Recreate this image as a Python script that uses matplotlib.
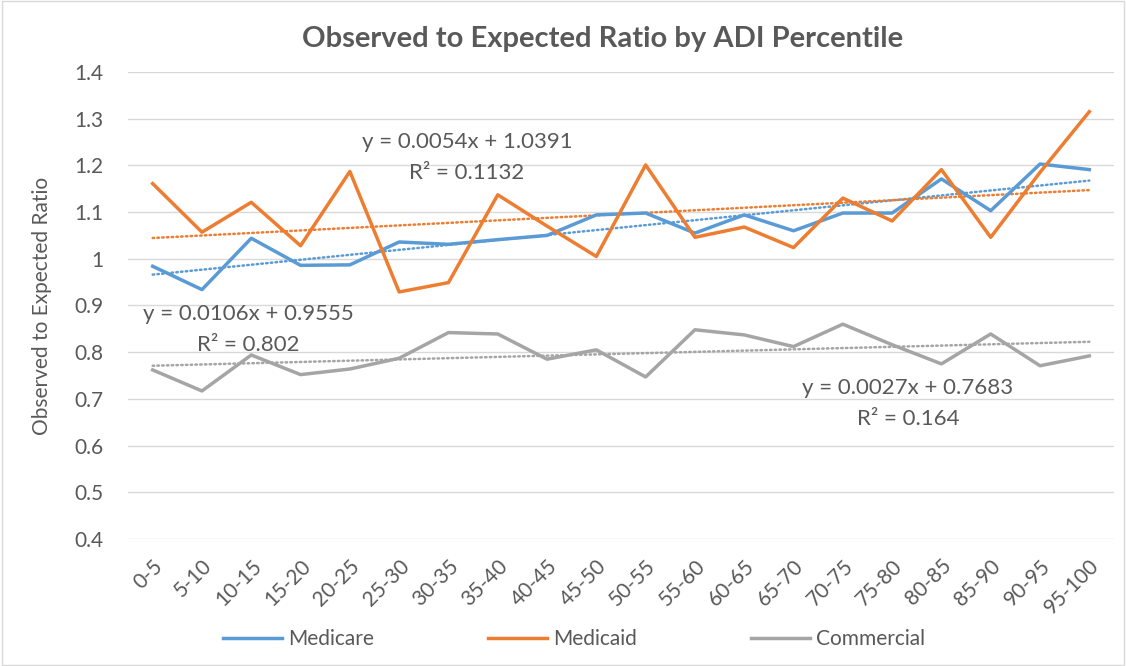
import matplotlib
matplotlib.use("Agg")
import matplotlib.pyplot as plt
import numpy as np

categories = ["0-5", "5-10", "10-15", "15-20", "20-25", "25-30", "30-35", "35-40",
              "40-45", "45-50", "50-55", "55-60", "60-65", "65-70", "70-75", "75-80",
              "80-85", "85-90", "90-95", "95-100"]

medicare = [0.984, 0.934, 1.044, 0.986, 0.987, 1.036, 1.031, 1.041, 1.050, 1.094,
            1.098, 1.055, 1.094, 1.060, 1.098, 1.098, 1.171, 1.103, 1.203, 1.191]
medicaid = [1.161, 1.057, 1.121, 1.028, 1.187, 0.929, 0.949, 1.137, 1.070, 1.005,
            1.201, 1.046, 1.068, 1.024, 1.130, 1.081, 1.191, 1.046, 1.185, 1.315]
commercial = [0.762, 0.717, 0.794, 0.752, 0.764, 0.787, 0.842, 0.839, 0.785, 0.805,
              0.747, 0.848, 0.837, 0.812, 0.860, 0.816, 0.775, 0.839, 0.771, 0.792]

# Excel linear trendlines (x = 1..20)
trend_slope = {"Medicare": 0.0106, "Medicaid": 0.0054, "Commercial": 0.0027}
trend_icept = {"Medicare": 0.9555, "Medicaid": 1.0391, "Commercial": 0.7683}
trend_r2 = {"Medicare": "0.802", "Medicaid": "0.1132", "Commercial": "0.164"}

colors = {"Medicare": "#5B9BD5", "Medicaid": "#ED7D31", "Commercial": "#A5A5A5"}
txt = "#595959"

plt.rcParams["font.family"] = ["Lato", "DejaVu Sans"]

fig = plt.figure(figsize=(11.26, 6.66), dpi=100)
ax = fig.add_axes([0.1137, 0.1907, 0.8756, 0.7012])

x = np.arange(len(categories))
series = {"Medicare": medicare, "Medicaid": medicaid, "Commercial": commercial}
for name, vals in series.items():
    ax.plot(x, vals, color=colors[name], lw=2.5, label=name, solid_joinstyle="round", zorder=3)
for name in series:
    xt = x + 1
    ax.plot(x, trend_slope[name] * xt + trend_icept[name], color=colors[name],
            lw=1.8, ls=(0, (0.6, 1.3)), dash_capstyle="round", zorder=2)

ax.set_xlim(-0.5, len(categories) - 0.5)
ax.set_ylim(0.4, 1.4)
ax.set_yticks(np.arange(0.4, 1.41, 0.1))
ax.set_yticklabels(["0.4", "0.5", "0.6", "0.7", "0.8", "0.9", "1", "1.1", "1.2", "1.3", "1.4"])
ax.set_xticks(x)
ax.set_xticklabels(categories, rotation=45, ha="right", rotation_mode="anchor")
ax.tick_params(axis="both", length=0, labelsize=15, colors=txt)
ax.tick_params(axis="y", pad=18)
ax.tick_params(axis="x", pad=12)
ax.grid(axis="y", color="#D9D9D9", lw=1)
ax.set_axisbelow(True)
for s in ax.spines.values():
    s.set_visible(False)

ax.set_ylabel("Observed to Expected Ratio", fontsize=15, color=txt)
ax.yaxis.set_label_coords(-0.077, 0.5)
fig.text(0.535, 0.941, "Observed to Expected Ratio by ADI Percentile", ha="center",
         va="center", fontsize=21, fontweight="bold", color=txt)

def eq_label(name, xc, yc, dy):
    s = trend_slope[name]
    b = trend_icept[name]
    fig.text(xc / 1126, 1 - yc / 666, "y = %sx + %s" % (s, b), ha="center", va="center",
             fontsize=16, color=txt)
    fig.text(xc / 1126, 1 - (yc + dy) / 666, "R² = %s" % trend_r2[name], ha="center",
             va="center", fontsize=16, color=txt)

eq_label("Medicaid", 467, 142, 31)
eq_label("Medicare", 248, 314, 31)
eq_label("Commercial", 908, 388, 31)

leg = fig.legend(loc="center", bbox_to_anchor=(0.51, 0.04), ncol=3, frameon=False,
                 fontsize=15, handlelength=2.8, columnspacing=5.5, handletextpad=0.3)
for t in leg.get_texts():
    t.set_color(txt)

fig.patches.append(plt.Rectangle((0.002, 0.002), 0.996, 0.996, transform=fig.transFigure,
                                 fill=False, ec="#D9D9D9", lw=1))

fig.savefig("out.png", dpi=100)
